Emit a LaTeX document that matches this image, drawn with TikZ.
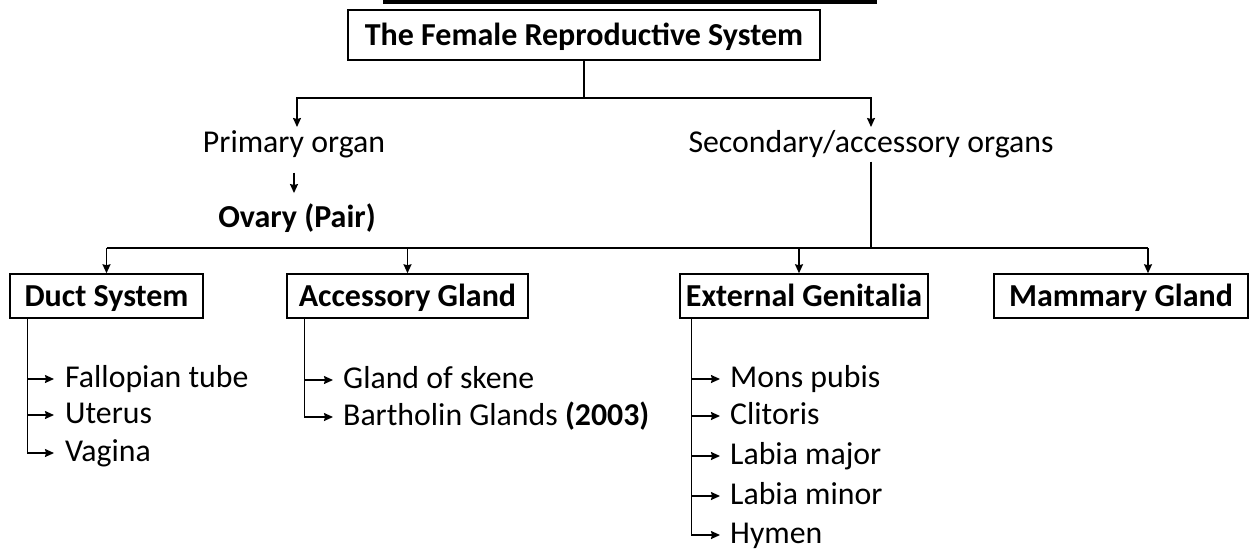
\documentclass[tikz,border=0pt]{standalone}
\usepackage{fontspec}
\setmainfont{Carlito}
\usetikzlibrary{arrows.meta}
\begin{document}
\begin{tikzpicture}[x=1pt,y=-1pt,
  every node/.style={font=\fontsize{31.8}{38}\selectfont},
  boxnode/.style={draw,line width=1.5pt,inner sep=0pt,text height=20pt,text depth=0pt,
    font=\fontsize{32}{38}\selectfont\bfseries,minimum height=44pt},
  txt/.style={inner sep=0pt,anchor=base},
  item/.style={inner sep=0pt,anchor=base west,text height=21pt,text depth=5pt},
  conn/.style={line width=1.5pt},
  arr/.style={conn,-{Stealth[length=9pt,width=8pt,inset=1pt]}},
]
\path[use as bounding box] (0,0) rectangle (1249,550);
\fill (383,0) rectangle (877,3.5);
\node[boxnode,minimum width=472pt,minimum height=50pt] (title) at (584,35) {The Female Reproductive System};
\node[txt] (prim) at (294,152) {Primary organ};
\node[txt] (sec) at (871,152) {Secondary/accessory organs};
\node[txt,font=\fontsize{32}{38}\selectfont\bfseries] (ovary) at (297,227) {Ovary (Pair)};
\node[boxnode,minimum width=193pt] (duct) at (106.5,296) {Duct System};
\node[boxnode,minimum width=241pt] (acc) at (407.5,296) {Accessory Gland};
\node[boxnode,minimum width=248pt] (ext) at (804,296) {External Genitalia};
\node[boxnode,minimum width=254pt] (mam) at (1121,296) {Mammary Gland};

\coordinate (hA) at (0,98);
\coordinate (pa) at (297,127);
\coordinate (sa) at (871,127);
\draw[conn] (title.south) -- (title.south |- hA);
\draw[arr] (title.south |- hA) -| (pa);
\draw[arr] (title.south |- hA) -| (sa);
\draw[arr,shorten <=15pt,shorten >=10pt] (prim.south) -- (prim.south |- ovary.north);

\coordinate (hB) at (0,248);
\coordinate (mamtop) at ([xshift=27pt]mam.north);
\coordinate (exttop) at ([xshift=-5pt]ext.north);
\draw[conn] ([yshift=-4pt]sec.south) -- (sec.south |- hB);
\draw[conn] (duct.north |- hB) -- (mamtop |- hB);
\draw[arr] (duct.north |- hB) -- (duct.north);
\draw[arr] (acc.north |- hB) -- (acc.north);
\draw[arr] (exttop |- hB) -- (exttop);
\draw[arr] (mamtop |- hB) -- (mamtop);

% Duct list
\coordinate (dv) at ([xshift=18pt]duct.south west);
\node[item] (d1) at (65,387) {Fallopian tube};
\node[item] (d2) at (65,423) {Uterus};
\node[item] (d3) at (65,461) {Vagina};
\draw[arr] (d1.west -| dv) -- ([xshift=-11pt]d1.west);
\draw[arr] (d2.west -| dv) -- ([xshift=-11pt]d2.west);
\draw[arr] (dv) |- ([xshift=-11pt]d3.west);

% Accessory list
\coordinate (av) at ([xshift=18pt]acc.south west);
\node[item] (a1) at (343,388) {Gland of skene};
\node[item] (a2) at (343,425) {Bartholin Glands \textbf{(2003)}};
\draw[arr] (a1.west -| av) -- ([xshift=-10pt]a1.west);
\draw[arr] (av) |- ([xshift=-10pt]a2.west);

% External list
\coordinate (ev) at ([xshift=12pt]ext.south west);
\node[item] (e1) at (730,387) {Mons pubis};
\node[item] (e2) at (730,424) {Clitoris};
\node[item] (e3) at (730,464) {Labia major};
\node[item] (e4) at (730,504) {Labia minor};
\node[item] (e5) at (730,543) {Hymen};
\draw[arr] (e1.west -| ev) -- ([xshift=-10pt]e1.west);
\draw[arr] (e2.west -| ev) -- ([xshift=-10pt]e2.west);
\draw[arr] (e3.west -| ev) -- ([xshift=-10pt]e3.west);
\draw[arr] (e4.west -| ev) -- ([xshift=-10pt]e4.west);
\draw[arr] (ev) |- ([xshift=-10pt]e5.west);
\end{tikzpicture}
\end{document}
